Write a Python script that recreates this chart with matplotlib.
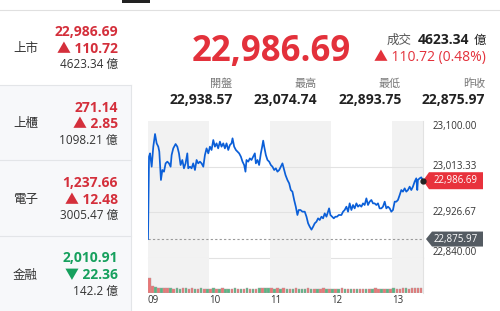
import numpy as np
import matplotlib
matplotlib.use("Agg")
import matplotlib.pyplot as plt
from matplotlib.patches import Rectangle, Polygon
import matplotlib.transforms as mtransforms

plt.rcParams['font.family'] = ['Open Sans', 'Noto Sans CJK TC', 'DejaVu Sans']

# ---------------- data ----------------
panel_names = ['上市', '上櫃', '電子', '金融']
panel_values = [22986.69, 271.14, 1237.66, 2010.91]
panel_changes = [110.72, 2.85, 12.48, -22.36]
panel_amounts = ['4623.34', '1098.21', '3005.47', '142.2']

index_value = 22986.69
index_change = 110.72
index_pct = 0.48
turnover = '4623.34'
stat_labels = ['開盤', '最高', '最低', '昨收']
stat_values = [22938.57, 23074.74, 22893.75, 22875.97]
prev_close = 22875.97

y_ticks = [23100.00, 23013.33, 22926.67, 22840.00]
x_tick_minutes = [0, 60, 120, 180, 240]
x_tick_labels = ['09', '10', '11', '12', '13']

# minutes after 09:00
times = [0, 1.0, 2.0, 3.6, 5.2, 6.9, 8.5, 10.1, 11.1, 12.7, 14.1, 15.7, 17.3, 19.0, 20.6,
         22.2, 23.2, 24.8, 27.1, 28.8, 30.4, 32.0, 33.7, 35.3, 36.9, 38.6, 39.5, 41.2,
         42.8, 44.4, 46.1, 47.7, 49.3, 51.0, 52.6, 54.3, 55.9, 57.5, 59.2, 60.8, 62.4,
         64.1, 65.7, 67.3, 68.9, 70.6, 72.2, 73.9, 75.5, 77.1, 78.8, 80.4, 82.0, 83.0,
         84.6, 86.3, 87.9, 89.5, 91.2, 92.8, 94.4, 95.7, 96.7, 98.4, 100.0, 101.6, 103.3,
         104.9, 105.9, 107.5, 109.1, 110.8, 112.1, 113.1, 114.1, 115.7, 117.3, 119.0,
         120.6, 122.2, 123.9, 125.5, 127.1, 128.8, 130.4, 132.0, 133.7, 135.0, 136.9,
         138.6, 140.2, 141.8, 143.5, 145.1, 146.7, 148.0, 149.7, 151.6, 153.9, 155.6,
         157.2, 158.8, 160.5, 162.1, 163.7, 165.4, 167.0, 168.6, 170.3, 171.9, 173.5,
         175.2, 176.8, 177.8, 179.1, 180.7, 182.4, 184.0, 185.6, 187.3, 189.9, 191.5,
         193.1, 194.8, 196.4, 198.0, 199.7, 201.3, 202.9, 204.6, 206.2, 207.8, 209.5,
         211.1, 212.7, 214.4, 216.0, 217.6, 219.3, 220.9, 222.5, 224.2, 225.8, 227.4,
         229.1, 230.7, 232.4, 234.0, 235.6, 237.3, 238.9, 240.5, 242.2, 243.8, 245.4,
         247.1, 248.7, 250.3, 252.0, 253.6, 255.2, 256.9, 258.5, 260.1, 261.8, 263.4,
         264.4, 265.0, 266.7, 268.3, 270.0]
prices = [22876.0, 23032.3, 23038.6, 23013.3, 23051.3, 23075.3, 23057.6, 23051.3, 23041.8,
          22988.0, 23007.0, 23003.8, 23019.6, 23022.8, 23019.6, 23013.3, 23035.5, 23048.1,
          23056.3, 23051.3, 23038.6, 23016.5, 23026.0, 23010.2, 23019.6, 23038.6, 23010.2,
          23013.3, 23010.2, 23019.6, 23007.0, 23026.0, 23019.6, 23022.8, 23019.6, 23013.3,
          23035.5, 23048.1, 23038.6, 23051.3, 23045.0, 23063.9, 23051.3, 23057.6, 23048.1,
          23060.8, 23051.3, 23057.6, 23048.1, 23057.6, 23045.0, 23054.4, 23057.6, 23067.1,
          23051.3, 23045.0, 23041.8, 23038.6, 23032.3, 23022.8, 23016.5, 23003.8, 23026.0,
          23022.8, 23029.1, 23026.0, 23032.3, 23038.6, 23019.6, 23026.0, 23016.5, 23038.6,
          23051.3, 23062.7, 23051.3, 23035.5, 23026.0, 23022.8, 23016.5, 23013.3, 23007.0,
          23010.2, 23003.8, 23007.0, 23013.3, 23019.6, 23007.0, 22997.5, 22988.0, 22981.7,
          22969.0, 22965.9, 22950.1, 22937.4, 22921.6, 22931.1, 22931.1, 22927.9, 22927.9,
          22918.4, 22905.8, 22899.4, 22893.8, 22899.4, 22905.8, 22908.9, 22915.3, 22912.1,
          22918.4, 22915.3, 22924.7, 22918.4, 22927.9, 22934.2, 22921.6, 22918.4, 22915.3,
          22918.4, 22918.4, 22921.6, 22921.6, 22927.9, 22931.1, 22937.4, 22927.9, 22943.7,
          22931.1, 22940.6, 22934.2, 22943.7, 22937.4, 22940.6, 22937.4, 22943.7, 22940.6,
          22953.2, 22940.6, 22946.9, 22950.1, 22943.7, 22943.7, 22940.6, 22943.7, 22934.2,
          22934.2, 22937.4, 22946.9, 22934.2, 22937.4, 22934.2, 22927.9, 22931.1, 22946.9,
          22946.9, 22950.1, 22959.5, 22969.0, 22965.9, 22972.2, 22965.9, 22969.0, 22975.4,
          22969.0, 22975.4, 22984.9, 22991.2, 22969.0, 22988.0, 22991.2, 22993.1, 22986.69]

vol_minutes = np.arange(0, 270, 3)
volumes = [52, 22, 19, 17, 16, 17, 16, 16, 15, 16,
           15, 16, 16, 15, 16, 15, 15, 16, 15, 15,
           15, 16, 15, 15, 16, 15, 15, 15, 16, 15,
           15, 15, 16, 15, 15, 15, 16, 17, 18, 16,
           16, 15, 16, 15, 16, 15, 15, 15, 16, 15,
           15, 15, 16, 15, 15, 15, 15, 16, 15, 15,
           15, 15, 15, 16, 15, 15, 15, 15, 15, 15,
           15, 15, 15, 15, 16, 15, 15, 15, 15, 15,
           16, 15, 15, 16, 16, 15, 16, 17, 16, 17]
vol_dirs = ("rrgrgrrgrg" "grgrrgrgrg" "rgrgrggrgr" "grgrgrgrgg" "rgrgrgrgrg"
            "ggrgrgrrgr" "grgrgrgrgr" "rgrgrrgrgr" "grrrgrrrrr")

# ---------------- styling ----------------
W, H = 500, 311
RED = '#e3313b'
RED_P = '#d42f3b'
GREEN = '#16a05d'
GRAY_TXT = '#777777'
DARK = '#222222'
BAND = '#f2f2f2'
GRID = '#e2e2e2'
LINE = '#0b5fd8'

fig = plt.figure(figsize=(W / 100, H / 100), dpi=100)
fig.patch.set_facecolor('white')


def fx(x):
    return x / W


def fy(y):
    return 1 - y / H


def rect(x0, y0, x1, y1, **kw):
    fig.patches.append(Rectangle((fx(x0), fy(y1)), fx(x1) - fx(x0), fy(y0) - fy(y1),
                                 transform=fig.transFigure, **kw))


def hline(x0, x1, y, color='#e3e5e8', lw=0.8):
    fig.add_artist(plt.Line2D([fx(x0), fx(x1)], [fy(y), fy(y)], color=color, lw=lw,
                              transform=fig.transFigure))


def vline(x, y0, y1, color='#e3e5e8', lw=0.8):
    fig.add_artist(plt.Line2D([fx(x), fx(x)], [fy(y0), fy(y1)], color=color, lw=lw,
                              transform=fig.transFigure))


def txt(x, y, s, **kw):
    fig.text(fx(x), fy(y), s, **kw)


# top decorations
rect(122, 0, 150, 3, fc=DARK, ec='none')
hline(0, 500, 9.5, color='#e0e0e0')

# left panel
rect(0, 85, 131, 311, fc='#f7f8fa', ec='none')
hline(0, 131, 85)
hline(0, 131, 160.5)
hline(0, 131, 236)
vline(131, 85, 311)

sec_h = 75.5
for i, (nm, v, ch, amt) in enumerate(zip(panel_names, panel_values, panel_changes, panel_amounts)):
    base = 36 + i * sec_h
    col = RED_P if ch >= 0 else GREEN
    arrow = '▲' if ch >= 0 else '▼'
    txt(13, base + 16, nm, ha='left', va='baseline', fontsize=9, color='#333333')
    txt(118, base, f"{v:,.2f}", ha='right', va='baseline', fontsize=10,
        fontweight='bold', color=col)
    txt(118, base + 17, f"{arrow} {abs(ch):.2f}", ha='right', va='baseline', fontsize=10,
        fontweight='bold', color=col)
    txt(118, base + 33, f"{amt} 億", ha='right', va='baseline', fontsize=8.5, color='#333333')

# header
txt(351, 61, f"{index_value:,.2f}", ha='right', va='baseline', fontsize=25,
    fontweight='bold', color=RED)
txt(412, 44, '成交', ha='right', va='baseline', fontsize=9, color='#555555')
txt(469, 44, turnover, ha='right', va='baseline', fontsize=10, fontweight='bold', color=DARK)
txt(486, 44, '億', ha='right', va='baseline', fontsize=9, color=DARK)
txt(486, 61.5, f"▲ {index_change:.2f} ({index_pct:.2f}%)", ha='right', va='baseline',
    fontsize=10, color=RED)

col_right = [232, 317, 401, 485]
for xr, lab, val in zip(col_right, stat_labels, stat_values):
    txt(xr, 87, lab, ha='right', va='baseline', fontsize=8, color=GRAY_TXT)
    txt(xr + 0.5, 104, f"{val:,.2f}", ha='right', va='baseline', fontsize=10,
        fontweight='bold', color=DARK)

# chart axes
L, R, T, M, B = 148, 423, 121, 258, 293
ax = fig.add_axes([fx(L), fy(M), fx(R) - fx(L), fy(T) - fy(M)])
axv = fig.add_axes([fx(L), fy(B), fx(R) - fx(L), fy(M) - fy(B)])

for a in (ax, axv):
    a.set_xlim(0, 270)
    a.set_facecolor('none')
    for s in a.spines.values():
        s.set_visible(False)
    a.spines['right'].set_visible(True)
    a.spines['right'].set_color(GRID)
    a.spines['right'].set_linewidth(0.8)
    a.set_xticks([])
    a.set_yticks([])
    for k in range(0, 270, 120):
        a.axvspan(k, min(k + 60, 270), color=BAND, lw=0, zorder=0)

ax.set_ylim(y_ticks[-1], y_ticks[0])
ax.spines['bottom'].set_visible(True)
ax.spines['bottom'].set_color(GRID)
ax.spines['bottom'].set_linewidth(0.8)
for v in y_ticks[1:3]:
    ax.axhline(v, color=GRID, lw=0.8, zorder=1)

ax.axhline(prev_close, color='#9a9a9a', lw=0.8, ls=(0, (2, 2)), zorder=2)
ax.plot(times, prices, color=LINE, lw=1.25, zorder=3, solid_joinstyle='round')
ax.plot(times[-1], prices[-1], 'o', color=DARK, ms=3.5, zorder=5, clip_on=False)

# y tick labels
blend = mtransforms.blended_transform_factory(ax.transAxes, ax.transData)
ax_w_px = R - L
ax_h_px = M - T
vas = ['top', 'center', 'center', 'bottom']
for v, va in zip(y_ticks, vas):
    ax.text(1 + 10 / ax_w_px, v, f"{v:,.2f}", transform=blend, ha='left', va=va,
            fontsize=7, color='#333333', clip_on=False)

# price tags
ppp = (y_ticks[0] - y_ticks[-1]) / ax_h_px


def tag(price, color, tip, body_left, right, half_h, text_x):
    xs = [tip, body_left, right, right, body_left]
    ys = [0, half_h, half_h, -half_h, -half_h]
    verts = [(1 + (x - R) / ax_w_px, price + y * ppp) for x, y in zip(xs, ys)]
    ax.add_patch(Polygon(verts, closed=True, fc=color, ec='none', transform=blend,
                         clip_on=False, zorder=4))
    ax.text(1 + (text_x - R) / ax_w_px, price, f"{price:,.2f}", transform=blend,
            ha='left', va='center', fontsize=7, color='white', clip_on=False, zorder=6)


tag(prices[-1], '#e8323c', 423, 429, 483, 8.5, 434)
tag(prev_close, '#545b62', 426, 432, 483, 7.5, 433.5)

# volume
axv.set_ylim(0, 118)
vcols = ['#ec7676' if d == 'r' else '#55b885' for d in vol_dirs]
axv.bar(vol_minutes, volumes, width=2.5, align='edge', color=vcols,
        edgecolor='#b0a0a0', lw=0.3, zorder=2)

# x labels
xblend = mtransforms.blended_transform_factory(axv.transData, axv.transAxes)
for m, lab in zip(x_tick_minutes, x_tick_labels):
    axv.text(m, -0.05, lab, transform=xblend, ha='left', va='top', fontsize=7, color='#333333')

fig.savefig('out.png', dpi=100)
